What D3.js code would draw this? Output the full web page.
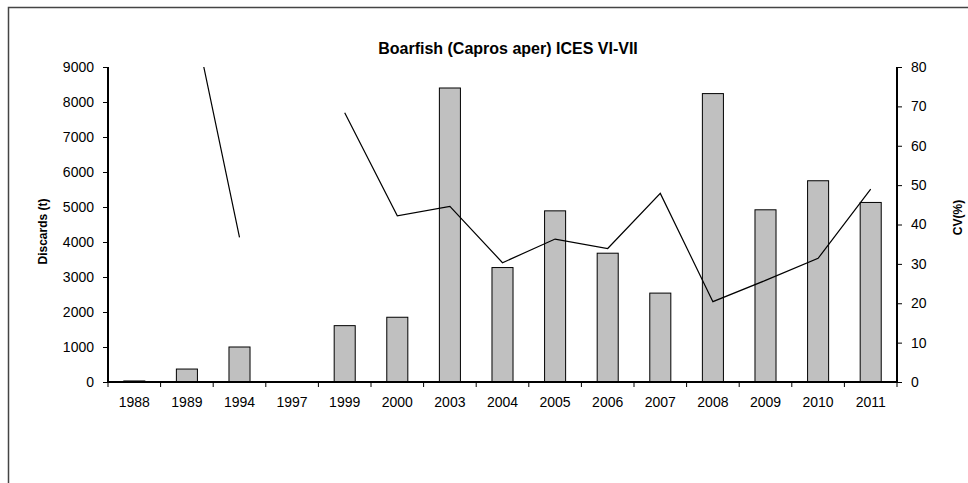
<!DOCTYPE html>
<html>
<head>
<meta charset="utf-8">
<script src="https://cdn.jsdelivr.net/npm/d3@7"></script>
<style>
  body { margin: 0; background: #fff; }
  text { font-family: "Liberation Sans", Arial, sans-serif; fill: #000; }
</style>
</head>
<body>
<svg width="968" height="483"></svg>
<script>
const years = ['1988','1989','1994','1997','1999','2000','2003','2004','2005','2006','2007','2008','2009','2010','2011'];
const discards = [30, 370, 1000, 0, 1610, 1850, 8400, 3270, 4890, 3680, 2540, 8240, 4920, 5750, 5130];
const cv = [null, 100.5, 36.7, null, 68.4, 42.2, 44.6, 30.3, 36.3, 33.9, 47.9, 20.4, 25.8, 31.4, 49.0];
const leftTicks = [0,1000,2000,3000,4000,5000,6000,7000,8000,9000];
const rightTicks = [0,10,20,30,40,50,60,70,80];

const margin = {left:108, right:71, top:67, bottom:101};
const W = 968, H = 483;
const w = W - margin.left - margin.right;
const h = H - margin.top - margin.bottom;

const svg = d3.select('svg');

// outer frame
svg.append('path')
  .attr('d', `M8.5,${H} V7.5 H${W}`)
  .attr('fill','none')
  .attr('stroke','#444')
  .attr('stroke-width',1.5);

const g = svg.append('g').attr('transform',`translate(${margin.left},${margin.top})`);

const xb = d3.scaleBand().domain(years).range([0,w]);
const yL = d3.scaleLinear().domain([0,9000]).range([h,0]);
const yR = d3.scaleLinear().domain([0,80]).range([h,0]);

g.append('defs').append('clipPath').attr('id','plotclip')
  .append('rect').attr('x',0).attr('y',0).attr('width',w).attr('height',h);

// bars
g.append('g').selectAll('rect')
  .data(years.map((y,i)=>({y, v:discards[i]})).filter(d=>d.v>0))
  .enter().append('rect')
    .attr('x', d => xb(d.y) + xb.bandwidth()*0.3)
    .attr('y', d => yL(d.v))
    .attr('width', xb.bandwidth()*0.4)
    .attr('height', d => h - yL(d.v))
    .attr('fill','#c0c0c0')
    .attr('stroke','#000')
    .attr('stroke-width',1);

// CV line
const line = d3.line()
  .defined(d => d.v !== null)
  .x(d => xb(d.y) + xb.bandwidth()/2)
  .y(d => yR(d.v));
g.append('path')
  .datum(years.map((y,i)=>({y, v:cv[i]})))
  .attr('d', line)
  .attr('clip-path','url(#plotclip)')
  .attr('fill','none')
  .attr('stroke','#000')
  .attr('stroke-width',1.2);

// left axis
const axL = g.append('g')
  .call(d3.axisLeft(yL).tickValues(leftTicks).tickSize(5).tickPadding(9).tickFormat(d3.format('d')));
axL.select('.domain').attr('stroke-width',2).attr('d',`M0,${h}V0`);
axL.selectAll('text').style('font-size','14px');

// right axis
const axR = g.append('g').attr('transform',`translate(${w},0)`)
  .call(d3.axisRight(yR).tickValues(rightTicks).tickSize(5).tickPadding(9));
axR.select('.domain').attr('stroke-width',2).attr('d',`M0,${h}V0`);
axR.selectAll('text').style('font-size','14px');

// x axis: ticks at band edges
const axX = g.append('g').attr('transform',`translate(0,${h})`);
axX.append('line').attr('x1',0).attr('x2',w).attr('stroke','#000').attr('stroke-width',2);
axX.selectAll('.tk').data(years.concat(['end'])).enter().append('line')
  .attr('x1',(d,i)=> i*xb.step()).attr('x2',(d,i)=> i*xb.step())
  .attr('y1',0).attr('y2',5).attr('stroke','#000');
axX.selectAll('.lbl').data(years).enter().append('text')
  .attr('x', d => xb(d) + xb.bandwidth()/2)
  .attr('y', 25)
  .attr('text-anchor','middle')
  .style('font-size','14px')
  .text(d => d);

// title
svg.append('text')
  .attr('x', 508).attr('y', 54)
  .attr('text-anchor','middle')
  .style('font-size','16px').style('font-weight','bold')
  .text('Boarfish (Capros aper) ICES VI-VII');

// axis titles
svg.append('text')
  .attr('transform',`translate(47,${margin.top + h/2 + 7}) rotate(-90)`)
  .attr('text-anchor','middle')
  .style('font-size','12px').style('font-weight','bold')
  .text('Discards (t)');
svg.append('text')
  .attr('transform',`translate(962,${margin.top + h/2 - 7}) rotate(-90)`)
  .attr('text-anchor','middle')
  .style('font-size','12px').style('font-weight','bold')
  .text('CV(%)');
</script>
</body>
</html>
